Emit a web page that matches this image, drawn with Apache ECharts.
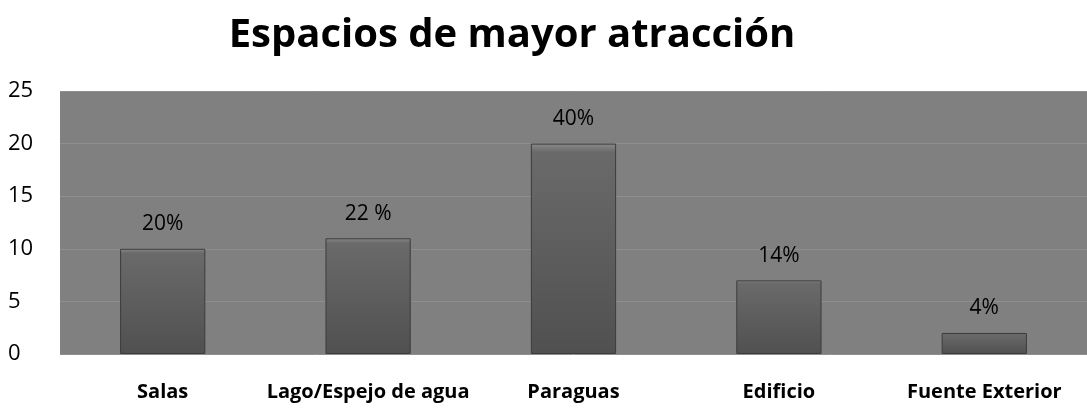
<!DOCTYPE html>
<html><head><meta charset="utf-8">
<script src="https://cdn.jsdelivr.net/npm/echarts@6/dist/echarts.min.js"></script>
<style>html,body{margin:0;padding:0;background:#fff}#c{width:1087px;height:411px}</style>
</head><body><div id="c"></div>
<script>
const categories = ['Salas', 'Lago/Espejo de agua', 'Paraguas', 'Edificio', 'Fuente Exterior'];
const values = [10, 11, 20, 7, 2];
const percentLabels = ['20%', '22 %', '40%', '14%', '4%'];
const yTicks = { min: 0, max: 25, interval: 5 };

const chart = echarts.init(document.getElementById('c'), null, {renderer: 'canvas'});
chart.setOption({
  backgroundColor: '#ffffff',
  animation: false,
  title: {
    text: 'Espacios de mayor atracción',
    left: 507, top: 11, textAlign: 'center',
    textStyle: {fontFamily: 'Open Sans', fontWeight: 'bold', fontSize: 40, color: '#000'}
  },
  grid: {left: 60, right: 0, top: 91, bottom: 57, show: true, backgroundColor: '#808080', borderWidth: 0},
  xAxis: {
    type: 'category', data: categories,
    axisLine: {show: false}, axisTick: {show: false},
    axisLabel: {interval: 0, margin: 28, fontFamily: 'Open Sans', fontWeight: 'bold', fontSize: 20, color: '#000'}
  },
  yAxis: {
    type: 'value', min: yTicks.min, max: yTicks.max, interval: yTicks.interval,
    axisLine: {show: false}, axisTick: {show: false},
    splitLine: {lineStyle: {color: '#8e8e8e', width: 1}},
    axisLabel: {margin: 52, align: 'left', fontFamily: 'Open Sans', fontSize: 22, color: '#000'}
  },
  series: [{
    type: 'bar', data: values, barWidth: '41.5%',
    itemStyle: {
      color: new echarts.graphic.LinearGradient(0, 0, 0, 1, [
        {offset: 0, color: '#8a8a8a'}, {offset: 0.04, color: '#6a6a6a'}, {offset: 1, color: '#505050'}
      ]),
      borderColor: '#3c3c3c', borderWidth: 1
    },
    label: {
      show: true, position: 'top', distance: 14,
      formatter: p => percentLabels[p.dataIndex],
      fontFamily: 'Open Sans', fontSize: 21, color: '#000'
    }
  }]
});
</script></body></html>
